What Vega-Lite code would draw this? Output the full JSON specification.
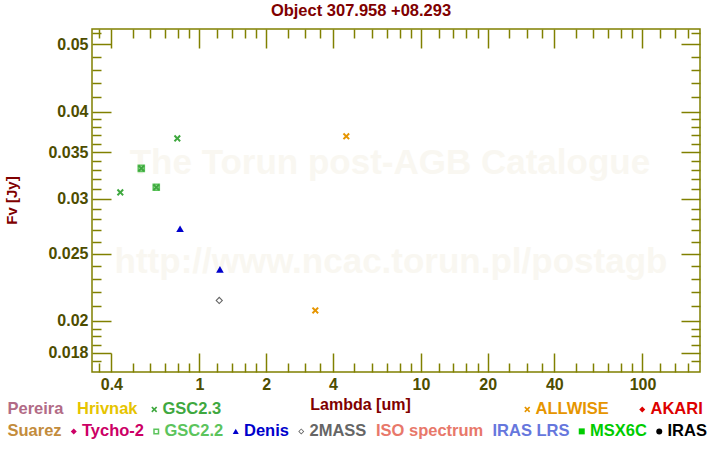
{
  "$schema": "https://vega.github.io/schema/vega-lite/v6.json",
  "width": 608,
  "height": 343,
  "autosize": {"type": "none"},
  "padding": {"left": 92, "top": 29, "right": 20, "bottom": 78},
  "background": "white",
  "view": {"stroke": "#808000", "strokeWidth": 1.5},
  "config": {"font": "Liberation Sans"},
  "title": {
    "text": "Object 307.958 +08.293",
    "color": "#800000",
    "fontSize": 16.5,
    "fontWeight": "bold",
    "font": "Liberation Sans",
    "anchor": "middle",
    "dx": -35,
    "offset": -4.5,
    "baseline": "alphabetic"
  },
  "datasets": {
    "points": [
      {"catalog": "GSC2.2", "lambda": 0.546, "flux": 0.03316},
      {"catalog": "GSC2.2", "lambda": 0.638, "flux": 0.03114},
      {"catalog": "Denis", "lambda": 0.817, "flux": 0.02714},
      {"catalog": "Denis", "lambda": 1.237, "flux": 0.02373},
      {"catalog": "2MASS", "lambda": 1.228, "flux": 0.02141},
      {"catalog": "GSC2.3", "lambda": 0.439, "flux": 0.03062},
      {"catalog": "GSC2.3", "lambda": 0.546, "flux": 0.03316},
      {"catalog": "GSC2.3", "lambda": 0.638, "flux": 0.03114},
      {"catalog": "GSC2.3", "lambda": 0.794, "flux": 0.03662},
      {"catalog": "ALLWISE", "lambda": 3.333, "flux": 0.02071},
      {"catalog": "ALLWISE", "lambda": 4.6, "flux": 0.03687}
    ],
    "watermark": [
      {"text": "The Torun post-AGB Catalogue", "lambda": 7.24, "flux": 0.03374},
      {"text": "http://www.ncac.torun.pl/postagb", "lambda": 7.32, "flux": 0.0243}
    ]
  },
  "layer": [
    {
      "data": {"name": "watermark"},
      "mark": {"type": "text", "font": "Liberation Sans", "fontWeight": "bold", "fontSize": 35, "color": "#f9f7f1", "align": "center", "baseline": "middle"},
      "encoding": {
        "x": {
          "field": "lambda", "type": "quantitative",
          "scale": {"type": "log", "domain": [0.3271, 181.8], "nice": false, "zero": false},
          "axis": {
            "orient": "bottom",
            "values": [0.4, 1, 2, 4, 10, 20, 40, 100],
            "ticks": false, "domain": false, "grid": false,
            "labelExpr": "format(datum.value, '~g')",
            "labelFont": "Liberation Sans", "labelFontSize": 16, "labelFontWeight": "bold",
            "labelColor": "#4d4d00", "labelPadding": 4, "labelFlush": false, "labelOverlap": false,
            "title": "Lambda [um]", "titleFont": "Liberation Sans", "titleFontSize": 16, "titleFontWeight": "bold",
            "titleColor": "#800000", "titleX": 268, "titleY": 32, "titleBaseline": "middle", "titleAlign": "center"
          }
        },
        "y": {
          "field": "flux", "type": "quantitative",
          "scale": {"type": "log", "domain": [0.01689, 0.05261], "nice": false, "zero": false},
          "axis": {
            "orient": "left",
            "values": [0.018, 0.02, 0.025, 0.03, 0.035, 0.04, 0.05],
            "ticks": false, "domain": false, "grid": false,
            "labelExpr": "format(datum.value, '~g')",
            "labelFont": "Liberation Sans", "labelFontSize": 16, "labelFontWeight": "bold",
            "labelColor": "#4d4d00", "labelPadding": 4, "labelFlush": false, "labelOverlap": false,
            "title": "Fv [Jy]", "titleFont": "Liberation Sans", "titleFontSize": 15, "titleFontWeight": "bold",
            "titleColor": "#800000", "titleX": -81, "titleY": 171, "titleAngle": 270, "titleBaseline": "middle", "titleAlign": "center"
          }
        },
        "text": {"field": "text", "type": "nominal"}
      }
    },
    {
      "data": {"name": "points"},
      "transform": [{"filter": "indexof(['GSC2.2','Denis','2MASS'], datum.catalog) >= 0"}],
      "mark": {"type": "point", "filled": true, "opacity": 1, "strokeWidth": 0, "size": 58},
      "encoding": {
        "x": {
          "field": "lambda", "type": "quantitative",
          "scale": {"type": "log", "domain": [0.3271, 181.8], "nice": false, "zero": false},
          "axis": {
            "orient": "bottom",
            "values": [0.35, 0.4, 0.5, 0.6, 0.7, 0.8, 0.9, 1, 1.2, 1.4, 1.6, 1.8, 2, 2.5, 3, 3.5, 4, 5, 6, 7, 8, 9, 10, 12, 14, 16, 18, 20, 25, 30, 35, 40, 50, 60, 70, 80, 90, 100, 120, 140, 160],
            "labels": false, "domain": false, "grid": false, "ticks": true,
            "tickColor": "#808000", "tickWidth": 1.5,
            "tickSize": {"condition": {"test": "indexof([0.4, 1, 2, 4, 10, 20, 40, 100], datum.value) >= 0", "value": -19}, "value": -9},
            "title": null
          }
        },
        "y": {
          "field": "flux", "type": "quantitative",
          "scale": {"type": "log", "domain": [0.01689, 0.05261], "nice": false, "zero": false},
          "axis": {
            "orient": "left",
            "values": [0.0175, 0.018, 0.0185, 0.019, 0.0195, 0.02, 0.021, 0.022, 0.023, 0.024, 0.025, 0.026, 0.027, 0.028, 0.029, 0.03, 0.031, 0.032, 0.033, 0.034, 0.035, 0.036, 0.037, 0.038, 0.039, 0.04, 0.042, 0.044, 0.046, 0.048, 0.05, 0.052],
            "labels": false, "domain": false, "grid": false, "ticks": true,
            "tickColor": "#808000", "tickWidth": 1.5,
            "tickSize": {"condition": {"test": "indexof([0.018, 0.02, 0.025, 0.03, 0.035, 0.04, 0.05], datum.value) >= 0", "value": -19}, "value": -9},
            "title": null
          }
        },
        "color": {
          "field": "catalog", "type": "nominal",
          "scale": {
            "domain": ["Suarez", "Tycho-2", "GSC2.2", "Denis", "2MASS", "ISO spectrum", "IRAS LRS", "MSX6C", "IRAS"],
            "range": ["#c38c3c", "#cc0066", "#5cc45c", "#0000cc", "#666666", "#e8786a", "#6677dd", "#00cc00", "#000000"]
          },
          "legend": {
            "orient": "none", "legendX": -73, "legendY": 394, "direction": "horizontal", "title": null,
            "labelFont": "Liberation Sans", "labelFontSize": 16.5, "labelFontWeight": "bold",
            "symbolSize": 36, "symbolStrokeWidth": 0, "symbolOffset": -10, "columnPadding": 8.5, "padding": 0,
            "labelOffset": {"expr": "indexof(['Suarez','ISO spectrum','IRAS LRS'], datum.value) >= 0 ? -18 : 0"},
            "labelColor": {"expr": "['#c38c3c','#cc0066','#5cc45c','#0000cc','#666666','#e8786a','#6677dd','#00cc00','#000000'][indexof(['Suarez','Tycho-2','GSC2.2','Denis','2MASS','ISO spectrum','IRAS LRS','MSX6C','IRAS'], datum.value)]"}
          }
        },
        "shape": {
          "field": "catalog", "type": "nominal",
          "scale": {
            "domain": ["Suarez", "Tycho-2", "GSC2.2", "Denis", "2MASS", "ISO spectrum", "IRAS LRS", "MSX6C", "IRAS"],
            "range": ["M0,0", "diamond", "M-1,-1L1,-1L1,1L-1,1Z M-0.5,-0.5L-0.5,0.5L0.5,0.5L0.5,-0.5Z", "triangle-up", "M0,-1L1,0L0,1L-1,0Z M0,-0.6L-0.6,0L0,0.6L0.6,0Z", "M0,0", "M0,0", "square", "circle"]
          },
          "legend": {
            "orient": "none", "legendX": -73, "legendY": 394, "direction": "horizontal", "title": null,
            "labelFont": "Liberation Sans", "labelFontSize": 16.5, "labelFontWeight": "bold",
            "symbolSize": 36, "symbolStrokeWidth": 0, "symbolOffset": -10, "columnPadding": 8.5, "padding": 0,
            "labelOffset": {"expr": "indexof(['Suarez','ISO spectrum','IRAS LRS'], datum.value) >= 0 ? -18 : 0"},
            "labelColor": {"expr": "['#c38c3c','#cc0066','#5cc45c','#0000cc','#666666','#e8786a','#6677dd','#00cc00','#000000'][indexof(['Suarez','Tycho-2','GSC2.2','Denis','2MASS','ISO spectrum','IRAS LRS','MSX6C','IRAS'], datum.value)]"}
          }
        }
      }
    },
    {
      "data": {"name": "points"},
      "transform": [{"filter": "datum.catalog === 'GSC2.3'"}],
      "mark": {"type": "point", "filled": true, "opacity": 1, "strokeWidth": 0, "size": 50},
      "encoding": {
        "x": {
          "field": "lambda", "type": "quantitative",
          "scale": {"type": "log", "domain": [0.3271, 181.8], "nice": false, "zero": false},
          "axis": {
            "orient": "top",
            "values": [0.35, 0.4, 0.5, 0.6, 0.7, 0.8, 0.9, 1, 1.2, 1.4, 1.6, 1.8, 2, 2.5, 3, 3.5, 4, 5, 6, 7, 8, 9, 10, 12, 14, 16, 18, 20, 25, 30, 35, 40, 50, 60, 70, 80, 90, 100, 120, 140, 160],
            "labels": false, "domain": false, "grid": false, "ticks": true,
            "tickColor": "#808000", "tickWidth": 1.5,
            "tickSize": {"condition": {"test": "indexof([0.4, 1, 2, 4, 10, 20, 40, 100], datum.value) >= 0", "value": -19}, "value": -9},
            "title": null
          }
        },
        "y": {
          "field": "flux", "type": "quantitative",
          "scale": {"type": "log", "domain": [0.01689, 0.05261], "nice": false, "zero": false},
          "axis": {
            "orient": "right",
            "values": [0.0175, 0.018, 0.0185, 0.019, 0.0195, 0.02, 0.021, 0.022, 0.023, 0.024, 0.025, 0.026, 0.027, 0.028, 0.029, 0.03, 0.031, 0.032, 0.033, 0.034, 0.035, 0.036, 0.037, 0.038, 0.039, 0.04, 0.042, 0.044, 0.046, 0.048, 0.05, 0.052],
            "labels": false, "domain": false, "grid": false, "ticks": true,
            "tickColor": "#808000", "tickWidth": 1.5,
            "tickSize": {"condition": {"test": "indexof([0.018, 0.02, 0.025, 0.03, 0.035, 0.04, 0.05], datum.value) >= 0", "value": -19}, "value": -9},
            "title": null
          }
        },
        "color": {
          "field": "catalog", "type": "nominal",
          "scale": {"domain": ["Pereira", "Hrivnak", "GSC2.3"], "range": ["#b26b86", "#e6c400", "#3fa83f"]},
          "legend": {
            "orient": "none", "legendX": -73, "legendY": 372, "direction": "horizontal", "title": null,
            "labelFont": "Liberation Sans", "labelFontSize": 16.5, "labelFontWeight": "bold",
            "symbolSize": 36, "symbolStrokeWidth": 0, "symbolOffset": -10, "columnPadding": 12.5, "padding": 0,
            "labelOffset": {"expr": "indexof(['Pereira','Hrivnak'], datum.value) >= 0 ? -18 : 0"},
            "labelColor": {"expr": "['#b26b86','#e6c400','#3fa83f'][indexof(['Pereira','Hrivnak','GSC2.3'], datum.value)]"}
          }
        },
        "shape": {
          "field": "catalog", "type": "nominal",
          "scale": {"domain": ["Pereira", "Hrivnak", "GSC2.3"], "range": ["M0,0", "M0,0", "M-1,-0.6L-0.6,-1L0,-0.4L0.6,-1L1,-0.6L0.4,0L1,0.6L0.6,1L0,0.4L-0.6,1L-1,0.6L-0.4,0Z"]},
          "legend": {
            "orient": "none", "legendX": -73, "legendY": 372, "direction": "horizontal", "title": null,
            "labelFont": "Liberation Sans", "labelFontSize": 16.5, "labelFontWeight": "bold",
            "symbolSize": 36, "symbolStrokeWidth": 0, "symbolOffset": -10, "columnPadding": 12.5, "padding": 0,
            "labelOffset": {"expr": "indexof(['Pereira','Hrivnak'], datum.value) >= 0 ? -18 : 0"},
            "labelColor": {"expr": "['#b26b86','#e6c400','#3fa83f'][indexof(['Pereira','Hrivnak','GSC2.3'], datum.value)]"}
          }
        }
      }
    },
    {
      "data": {"name": "points"},
      "transform": [{"filter": "datum.catalog === 'ALLWISE'"}],
      "mark": {"type": "point", "filled": true, "opacity": 1, "strokeWidth": 0, "size": 50},
      "encoding": {
        "x": {
          "field": "lambda", "type": "quantitative",
          "scale": {"type": "log", "domain": [0.3271, 181.8], "nice": false, "zero": false},
          "axis": null
        },
        "y": {
          "field": "flux", "type": "quantitative",
          "scale": {"type": "log", "domain": [0.01689, 0.05261], "nice": false, "zero": false},
          "axis": null
        },
        "color": {
          "field": "catalog", "type": "nominal",
          "scale": {"domain": ["ALLWISE", "AKARI"], "range": ["#e69500", "#dd0000"]},
          "legend": {
            "orient": "none", "legendX": 437, "legendY": 372, "direction": "horizontal", "title": null,
            "labelFont": "Liberation Sans", "labelFontSize": 16.5, "labelFontWeight": "bold",
            "symbolSize": 36, "symbolStrokeWidth": 0, "symbolOffset": -10, "columnPadding": 30, "padding": 0,
            "labelOffset": 0,
            "labelColor": {"expr": "['#e69500','#dd0000'][indexof(['ALLWISE','AKARI'], datum.value)]"}
          }
        },
        "shape": {
          "field": "catalog", "type": "nominal",
          "scale": {"domain": ["ALLWISE", "AKARI"], "range": ["M-1,-0.6L-0.6,-1L0,-0.4L0.6,-1L1,-0.6L0.4,0L1,0.6L0.6,1L0,0.4L-0.6,1L-1,0.6L-0.4,0Z", "diamond"]},
          "legend": {
            "orient": "none", "legendX": 437, "legendY": 372, "direction": "horizontal", "title": null,
            "labelFont": "Liberation Sans", "labelFontSize": 16.5, "labelFontWeight": "bold",
            "symbolSize": 36, "symbolStrokeWidth": 0, "symbolOffset": -10, "columnPadding": 30, "padding": 0,
            "labelOffset": 0,
            "labelColor": {"expr": "['#e69500','#dd0000'][indexof(['ALLWISE','AKARI'], datum.value)]"}
          }
        }
      }
    }
  ],
  "resolve": {
    "scale": {"color": "independent", "shape": "independent"},
    "legend": {"color": "independent", "shape": "independent"},
    "axis": {"x": "independent", "y": "independent"}
  }
}
